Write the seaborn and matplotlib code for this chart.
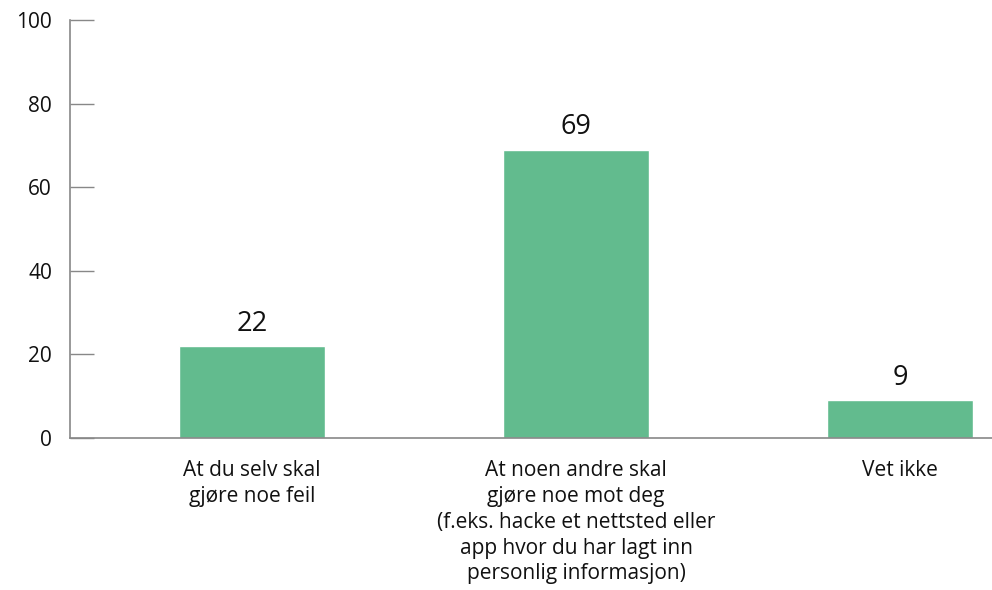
import matplotlib
matplotlib.use("Agg")
import matplotlib.pyplot as plt
import seaborn as sns
import pandas as pd

categories = ["At du selv skal\ngjøre noe feil",
              "At noen andre skal\ngjøre noe mot deg\n(f.eks. hacke et nettsted eller\napp hvor du har lagt inn\npersonlig informasjon)",
              "Vet ikke"]
values = [22, 69, 9]
yticks = [0, 20, 40, 60, 80, 100]

sns.set_style("white")
plt.rcParams['font.family'] = ['Open Sans', 'DejaVu Sans']

df = pd.DataFrame({"cat": categories, "val": values})
fig = plt.figure(figsize=(9.92, 5.9), dpi=100)
ax = fig.add_axes([70/992, 1-438/590, 1-70/992, (438-20)/590])
sns.barplot(data=df, x="cat", y="val", color="#62bb8e", saturation=1, width=0.45, ax=ax)

for i, v in enumerate(values):
    ax.text(i, v + 2.0, str(v), ha="center", va="bottom", fontsize=19.5, color="#111111")

ax.set_ylim(0, 100)
ax.set_xlim(-0.562, 2.284)
ax.set_yticks(yticks)
ax.set_yticklabels([str(t) for t in yticks], fontsize=15, color="#111111")
ax.tick_params(axis="y", direction="in", length=17.5, width=1, color="#888888", pad=13, left=True)
ax.tick_params(axis="x", length=0, pad=16, labelsize=15, labelcolor="#111111")
for lbl in ax.get_xticklabels():
    lbl.set_multialignment("center")
    lbl.set_linespacing(1.3)
ax.set_xlabel("")
ax.set_ylabel("")
for s in ["top", "right"]:
    ax.spines[s].set_visible(False)
for s in ["left", "bottom"]:
    ax.spines[s].set_color("#888888")
    ax.spines[s].set_linewidth(1.2)

fig.savefig("out.png", dpi=100)
